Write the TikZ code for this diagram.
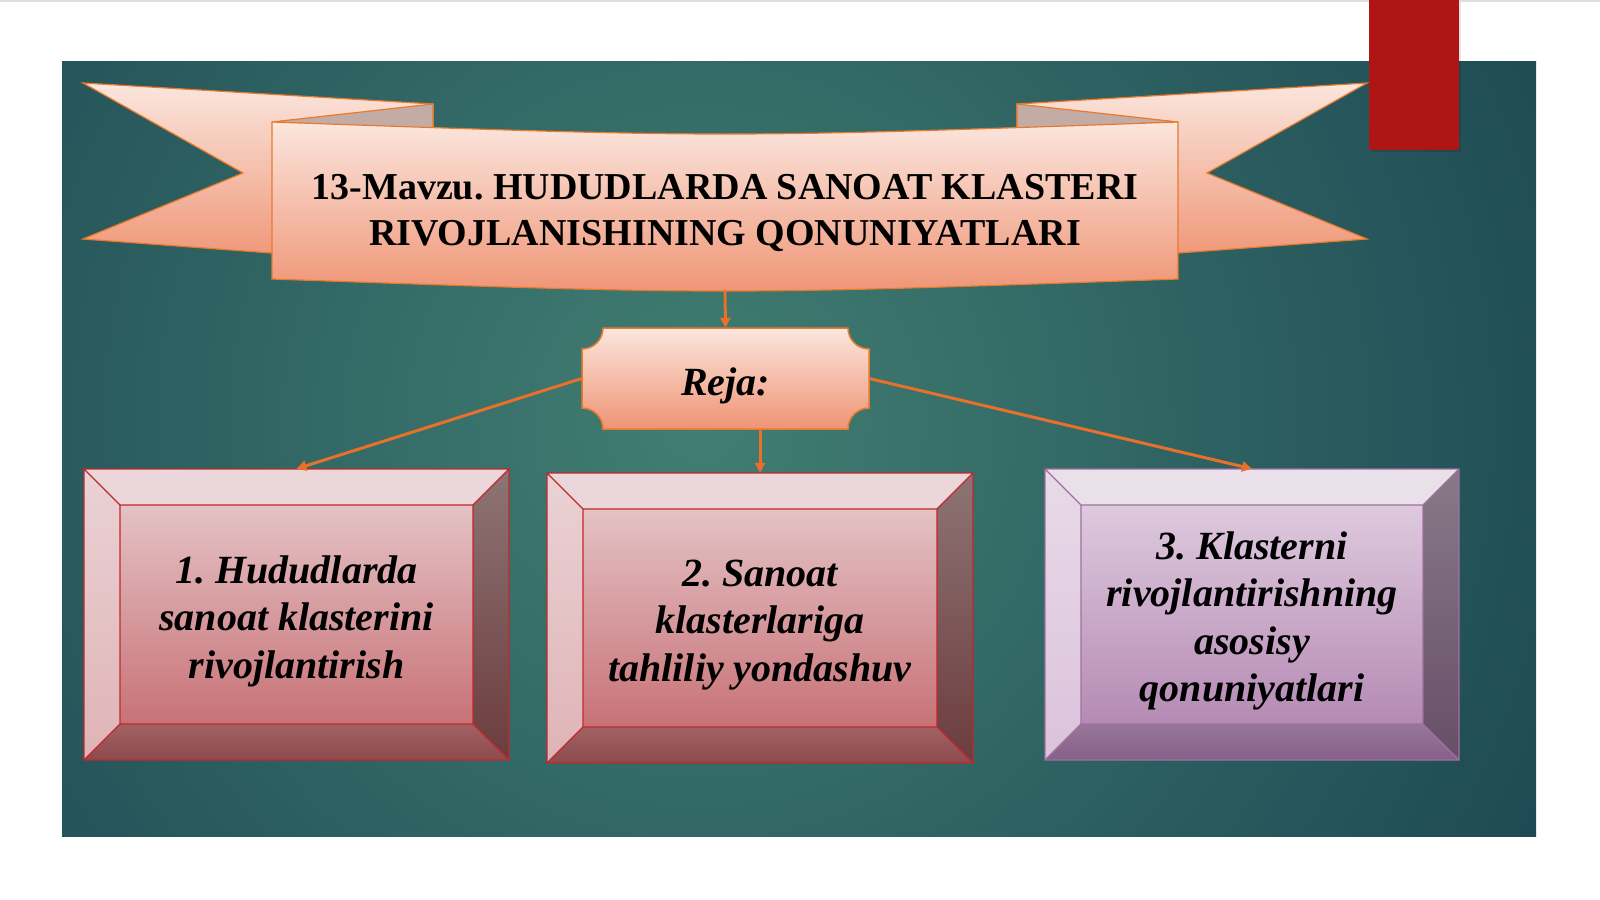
\documentclass[tikz,border=0pt]{standalone}
\usepackage{fontspec}
\setmainfont{Liberation Serif}
\usetikzlibrary{calc,arrows.meta}
\frenchspacing

\definecolor{tealin}{HTML}{417E72}
\definecolor{tealout}{HTML}{12384A}
\definecolor{redtab}{HTML}{B01515}
\definecolor{ribtop}{HTML}{FBE6DE}
\definecolor{ribbot}{HTML}{EF9474}
\definecolor{ribline}{HTML}{E97A2C}
\definecolor{foldgray}{HTML}{C4ACA6}
\definecolor{arrowline}{HTML}{E8702A}
% rose boxes
\definecolor{facerose}{HTML}{E4C2C5}
\definecolor{facedkrose}{HTML}{C87276}
\definecolor{toprose}{HTML}{EBD7D9}
\definecolor{ltrose}{HTML}{EAD2D4}
\definecolor{lbrose}{HTML}{DFB3B6}
\definecolor{rtrose}{HTML}{8E7474}
\definecolor{rbrose}{HTML}{6C3C3E}
\definecolor{btrose}{HTML}{A26264}
\definecolor{bbrose}{HTML}{8C4A4D}
\definecolor{linerose}{HTML}{C0282D}
% lilac box
\definecolor{facelilac}{HTML}{DECADE}
\definecolor{facedklilac}{HTML}{B58AB4}
\definecolor{toplilac}{HTML}{EAE0EA}
\definecolor{ltlilac}{HTML}{E8DAE8}
\definecolor{lblilac}{HTML}{DBC2DB}
\definecolor{rtlilac}{HTML}{877A88}
\definecolor{rblilac}{HTML}{684E68}
\definecolor{btlilac}{HTML}{977697}
\definecolor{bblilac}{HTML}{85608A}
\definecolor{linelilac}{HTML}{A070A0}

\begin{document}
\begin{tikzpicture}[x=1pt,y=-1pt,
	arr/.style={draw=arrowline, line width=3pt, -{Triangle[length=10pt,width=10pt]}},
	titletext/.style={font=\fontsize{38}{46}\selectfont\bfseries, align=center, inner sep=0pt},
	rejatext/.style={font=\fontsize{40}{46}\selectfont\bfseries\itshape, inner sep=0pt, minimum width=287pt, minimum height=101pt},
	boxtext/.style={font=\fontsize{40}{47.5}\selectfont\bfseries\itshape, align=center, inner sep=0pt, minimum width=420pt, minimum height=304pt}]
	
	\useasboundingbox (0,0) rectangle (1600,899);
	\fill[white] (0,0) rectangle (1600,899);
	\draw[gray!25, line width=2pt] (0,1) -- (1600,1);
	
	%--- Fon ---
	\begin{scope}
		\clip (62,62) rectangle (1536,836);
		\shade[inner color=tealin, outer color=tealout] (700,420) circle (1250);
	\end{scope}
	
	%--- Qizil belgi ---
	\fill[black, opacity=0.1] (1371,2) rectangle (1461,152);
	\fill[redtab] (1369,0) rectangle (1459,150);
	
	%--- Lenta ---
	\shadedraw[top color=ribtop, bottom color=ribbot, draw=ribline, line width=1.2pt]
		(83,83) -- (433,104) -- (433,265) -- (83,239) -- (243,173) -- cycle;
	\shadedraw[top color=ribtop, bottom color=ribbot, draw=ribline, line width=1.2pt]
		(1367,83) -- (1017,104) -- (1017,265) -- (1367,239) -- (1207,173) -- cycle;
	\filldraw[fill=foldgray, draw=ribline, line width=1.2pt] (272,122) -- (433,104) -- (433,129) -- cycle;
	\filldraw[fill=foldgray, draw=ribline, line width=1.2pt] (1178,122) -- (1017,104) -- (1017,129) -- cycle;
	\shadedraw[top color=ribtop, bottom color=ribbot, draw=ribline, line width=1.2pt]
		(272,122) .. controls (725,138) .. (1178,122) -- (1178,279)
		.. controls (725,295) .. (272,279) -- cycle;
	\node[titletext] (title) at (725,213) {13-Mavzu. HUDUDLARDA SANOAT KLASTERI\\RIVOJLANISHINING QONUNIYATLARI};
	\coordinate (ribbonbot) at (725,291);
	
	%--- Reja ---
	\shadedraw[top color=ribtop, bottom color=ribbot, draw=ribline, line width=1.5pt]
		(603,328) -- (848,328) .. controls (848,339.6) and (857.4,349) .. (869,349)
		-- (869,408) .. controls (857.4,408) and (848,417.4) .. (848,429)
		-- (603,429) .. controls (603,417.4) and (593.6,408) .. (582,408)
		-- (582,349) .. controls (593.6,349) and (603,339.6) .. (603,328) -- cycle;
	\node[rejatext] (reja) at (725.5,378.5) {\raisebox{-7pt}[\height][\depth]{Reja:}};
	
	%--- Qutilar ---
	\foreach \xa/\ya/\xb/\yb/\pal in {84/469/509/760/rose, 547/473/973/763/rose, 1045/469/1459/760/lilac}{
		\def\bev{36} % qirra kengligi
		\shade[top color=face\pal, bottom color=facedk\pal] ({\xa+\bev},{\ya+\bev}) rectangle ({\xb-\bev},{\yb-\bev});
		\fill[top\pal] (\xa,\ya) -- (\xb,\ya) -- ({\xb-\bev},{\ya+\bev}) -- ({\xa+\bev},{\ya+\bev}) -- cycle;
		\shade[top color=lt\pal, bottom color=lb\pal] (\xa,\ya) -- ({\xa+\bev},{\ya+\bev}) -- ({\xa+\bev},{\yb-\bev}) -- (\xa,\yb) -- cycle;
		\shade[top color=rt\pal, bottom color=rb\pal] (\xb,\ya) -- (\xb,\yb) -- ({\xb-\bev},{\yb-\bev}) -- ({\xb-\bev},{\ya+\bev}) -- cycle;
		\shade[top color=bt\pal, bottom color=bb\pal] (\xa,\yb) -- (\xb,\yb) -- ({\xb-\bev},{\yb-\bev}) -- ({\xa+\bev},{\yb-\bev}) -- cycle;
		\draw[line\pal, line width=1.2pt] (\xa,\ya) rectangle (\xb,\yb)
			({\xa+\bev},{\ya+\bev}) rectangle ({\xb-\bev},{\yb-\bev})
			(\xa,\ya) -- ({\xa+\bev},{\ya+\bev}) (\xb,\ya) -- ({\xb-\bev},{\ya+\bev})
			(\xa,\yb) -- ({\xa+\bev},{\yb-\bev}) (\xb,\yb) -- ({\xb-\bev},{\yb-\bev});
	}
	\node[boxtext] (b1) at (296.5,621) {1. Hududlarda\\sanoat klasterini\\rivojlantirish};
	\node[boxtext] (b2) at (760,625) {2. Sanoat\\klasterlariga\\tahliliy yondashuv};
	\node[boxtext] (b3) at (1252,621) {3. Klasterni\\rivojlantirishning\\asosisy\\qonuniyatlari};
	
	%--- Strelkalar ---
	\draw[arr] (ribbonbot) -- (reja.north);
	\draw[arr] (reja.west) -- (b1.north);
	\draw[arr] (reja.south -| b2.north) -- (b2.north);
	\draw[arr] (reja.east) -- (b3.north);
	
\end{tikzpicture}
\end{document}
